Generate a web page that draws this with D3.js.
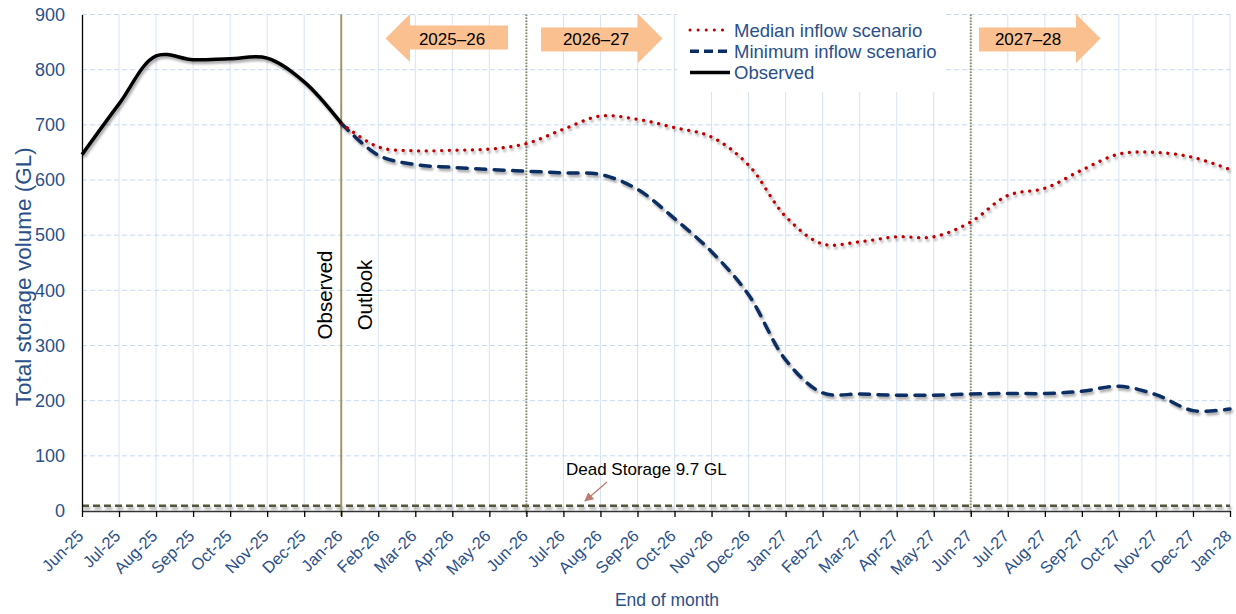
<!DOCTYPE html>
<html><head><meta charset="utf-8">
<script src="https://cdn.jsdelivr.net/npm/d3@7"></script>
<style>
body{margin:0;background:#fff;}
text{font-family:"Liberation Sans",Arial,sans-serif;}
</style></head>
<body>
<svg id="chart" width="1236" height="614"></svg>
<script>
// ---- data ----
const months = ["Jun-25","Jul-25","Aug-25","Sep-25","Oct-25","Nov-25","Dec-25","Jan-26","Feb-26","Mar-26","Apr-26","May-26","Jun-26","Jul-26","Aug-26","Sep-26","Oct-26","Nov-26","Dec-26","Jan-27","Feb-27","Mar-27","Apr-27","May-27","Jun-27","Jul-27","Aug-27","Sep-27","Oct-27","Nov-27","Dec-27","Jan-28"];
const observedMonths = months.slice(0, 8);
const observed = [646, 738, 825, 818, 820, 821, 778, 703];
const outlookMonths = months.slice(7);
const median = [703, 660, 653, 654, 656, 666, 692, 716, 710, 695, 678, 627, 534, 484, 488, 497, 497, 524, 572, 585, 618, 647, 650, 641, 619];
const minimum = [703, 645, 628, 623, 619, 616, 613, 610, 583, 530, 470, 392, 274, 214, 212, 210, 210, 212, 213, 213, 217, 226, 211, 182, 185];
const deadStorage = 9.7;
const yTicks = [0,100,200,300,400,500,600,700,800,900];
const yearArrows = [
  {label:"2025–26", dir:"left"},
  {label:"2026–27", dir:"right"},
  {label:"2027–28", dir:"right"}
];
const legendItems = [
  {label:"Median inflow scenario", key:"median"},
  {label:"Minimum inflow scenario", key:"minimum"},
  {label:"Observed", key:"observed"}
];

// ---- layout ----
const svg = d3.select("#chart");
const X0 = 82, X1 = 1230, Y0 = 511, Y1 = 14.5;
const x = d3.scalePoint().domain(months).range([X0, X1]);
const y = d3.scaleLinear().domain([0, 900]).range([Y0, Y1]);
const blue = "#2A5089";

const defs = svg.append("defs");
const f = defs.append("filter").attr("id","shadow").attr("filterUnits","userSpaceOnUse")
  .attr("x",0).attr("y",0).attr("width",1236).attr("height",614);
f.append("feDropShadow").attr("dx",1.5).attr("dy",2.5).attr("stdDeviation",1.3).attr("flood-color","#000").attr("flood-opacity",0.35);

// gridlines
svg.append("g").selectAll("line").data(months.slice(1)).join("line")
  .attr("x1", d=>x(d)).attr("x2", d=>x(d)).attr("y1", Y1).attr("y2", Y0)
  .attr("stroke","#D6E3F3").attr("stroke-width",1);
svg.append("g").selectAll("line").data(yTicks.slice(1)).join("line")
  .attr("x1", X0).attr("x2", X1).attr("y1", d=>y(d)).attr("y2", d=>y(d))
  .attr("stroke","#C9DAF0").attr("stroke-width",1).attr("stroke-dasharray","5,3");

// legend background
svg.append("rect").attr("x",677).attr("y",Y1-0.5).attr("width",268).attr("height",78).attr("fill","#fff");

// dead storage line
svg.append("line").attr("x1",X0).attr("x2",X1).attr("y1",y(deadStorage)).attr("y2",y(deadStorage))
  .attr("stroke","#55553A").attr("stroke-width",2.5).attr("stroke-dasharray","7,4").attr("filter","url(#shadow)");

// vertical markers
svg.append("line").attr("x1",x("Jan-26")).attr("x2",x("Jan-26")).attr("y1",Y1).attr("y2",Y0+5)
  .attr("stroke","#A0966A").attr("stroke-width",2);
["Jun-26","Jun-27"].forEach(m=>{
  svg.append("line").attr("x1",x(m)).attr("x2",x(m)).attr("y1",Y1).attr("y2",Y0+5)
    .attr("stroke","#8F8A5C").attr("stroke-width",2).attr("stroke-dasharray","1.5,1.5");
});

// axes
const yAxis = d3.axisLeft(y).tickValues(yTicks).tickSize(0).tickPadding(17);
const gy = svg.append("g").attr("transform",`translate(${X0},0)`).call(yAxis);
gy.select(".domain").attr("stroke","#000").attr("stroke-width",1.3);
gy.selectAll("text").attr("font-size",18).attr("fill",blue).attr("font-family","Liberation Sans, Arial");

const xAxis = d3.axisBottom(x).tickSize(6).tickSizeOuter(0);
const gx = svg.append("g").attr("transform",`translate(0,${Y0})`).call(xAxis);
gx.select(".domain").attr("stroke","#333").attr("stroke-width",1.5);
gx.selectAll(".tick line").attr("stroke","#000").attr("stroke-width",1.3);
gx.selectAll("text").attr("font-size",16.5).attr("fill",blue).attr("font-family","Liberation Sans, Arial")
  .attr("text-anchor","end").attr("dy",0).attr("y",0)
  .attr("transform","translate(2,26) rotate(-45)");

// series
const line = d3.line().curve(d3.curveCatmullRom.alpha(0.5));
const medPts = outlookMonths.map((m,i)=>[x(m), y(median[i])]);
const minPts = outlookMonths.map((m,i)=>[x(m), y(minimum[i])]);
const obsPts = observedMonths.map((m,i)=>[x(m), y(observed[i])]);
svg.append("path").attr("d",line(minPts)).attr("fill","none").attr("stroke","#0C2D64")
  .attr("stroke-width",3.5).attr("stroke-dasharray","10,8.5").attr("stroke-linecap","round").attr("filter","url(#shadow)");
svg.append("path").attr("d",line(medPts)).attr("fill","none").attr("stroke","#C00000")
  .attr("stroke-width",3.3).attr("stroke-dasharray","0.1,7.6").attr("stroke-linecap","round").attr("filter","url(#shadow)");
svg.append("path").attr("d",line(obsPts)).attr("fill","none").attr("stroke","#000")
  .attr("stroke-width",3.5).attr("stroke-linejoin","round").attr("filter","url(#shadow)");

// axis titles
svg.append("text").attr("transform",`translate(31,${(Y0+Y1)/2+14}) rotate(-90)`)
  .attr("text-anchor","middle").attr("font-size",22.5).attr("fill",blue).text("Total storage volume (GL)");
svg.append("text").attr("x",667).attr("y",606).attr("text-anchor","middle").attr("font-size",17.5).attr("fill",blue).text("End of month");

// Observed / Outlook labels
svg.append("text").attr("transform",`translate(${x("Jan-26")-9},295) rotate(-90)`).attr("text-anchor","middle")
  .attr("font-size",20.5).attr("fill","#000").text("Observed");
svg.append("text").attr("transform",`translate(${x("Jan-26")+31},295) rotate(-90)`).attr("text-anchor","middle")
  .attr("font-size",20.5).attr("fill","#000").text("Outlook");

// dead storage label & arrow
svg.append("text").attr("x",566).attr("y",475).attr("font-size",17).attr("fill","#000").text("Dead Storage 9.7 GL");
defs.append("marker").attr("id","ah").attr("viewBox","0 0 10 10").attr("refX",9).attr("refY",5)
  .attr("markerWidth",7).attr("markerHeight",7).attr("orient","auto")
  .append("path").attr("d","M0,0 L10,5 L0,10 z").attr("fill","#C07A70");
svg.append("line").attr("x1",607).attr("y1",482).attr("x2",585).attr("y2",501)
  .attr("stroke","#C07A70").attr("stroke-width",1.3).attr("marker-end","url(#ah)");

// year arrows
const ay = 38.5;
yearArrows.forEach(a=>{
  let pts;
  if (a.dir === "left") {
    const x1 = 508, tip = 385.5, base = 410;
    pts = [[tip,ay],[base,ay-24.5],[base,ay-13],[x1,ay-13],[x1,ay+11],[base,ay+11],[base,ay+23.5]];
  } else {
    const start = a.label === "2026–27" ? 541 : 979;
    const base = start + 97, tip = base + 24.5;
    pts = [[start,ay-11],[base,ay-11],[base,ay-24.5],[tip,ay],[base,ay+24.5],[base,ay+13],[start,ay+13]];
  }
  svg.append("path").attr("d", d3.line()(pts)+"Z").attr("fill","#FAC090");
  const cx = a.dir==="left" ? 452 : (a.label==="2026–27" ? 596 : 1028);
  svg.append("text").attr("x",cx).attr("y",ay+6).attr("text-anchor","middle").attr("font-size",17).attr("fill","#000").text(a.label);
});

// legend
const lg = svg.append("g");
legendItems.forEach((it,i)=>{
  const ly = 30 + i*21.3;
  const l = lg.append("line").attr("x1",690).attr("x2",730).attr("y1",ly).attr("y2",ly);
  if (it.key==="median") l.attr("stroke","#C00000").attr("stroke-width",3).attr("stroke-dasharray","0.1,8").attr("stroke-linecap","round");
  else if (it.key==="minimum") l.attr("stroke","#0C2D64").attr("stroke-width",3.5).attr("stroke-dasharray","9,5");
  else l.attr("stroke","#000").attr("stroke-width",3.5);
  lg.append("text").attr("x",734).attr("y",ly+6.5).attr("font-size",18.5).attr("fill",blue).text(it.label);
});
</script>
</body></html>
